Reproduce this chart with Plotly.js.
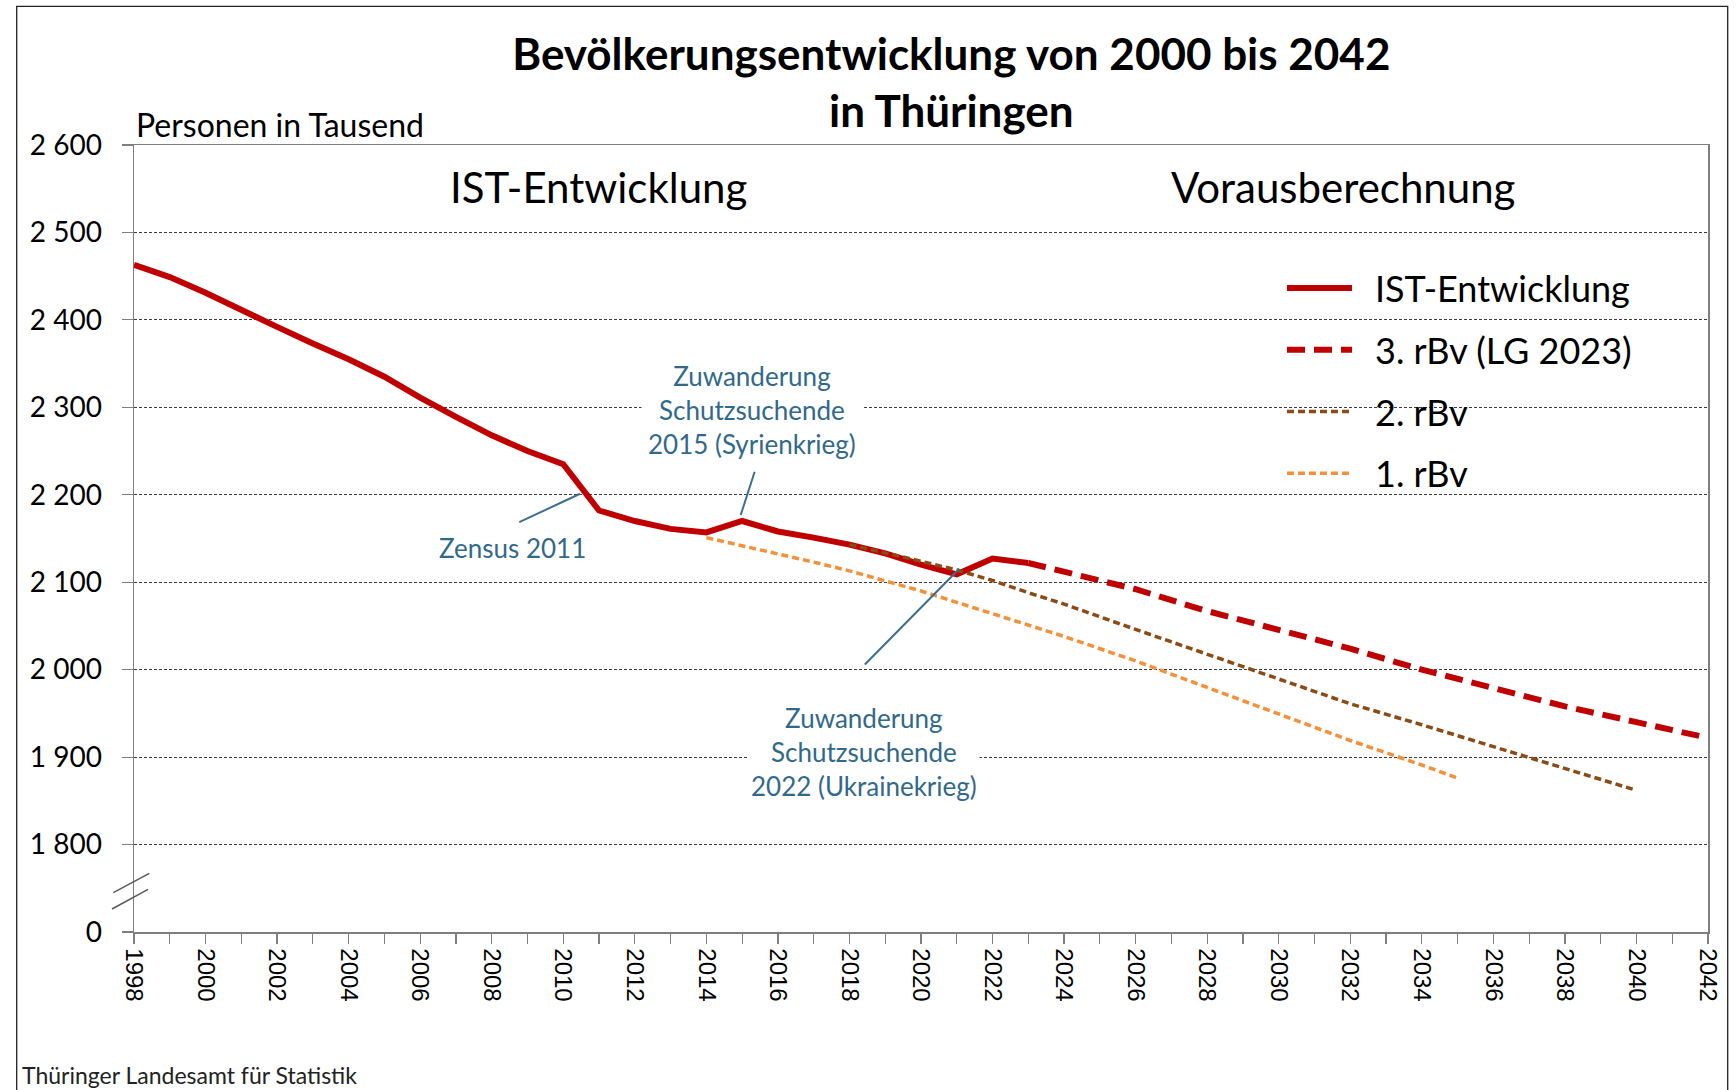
<!DOCTYPE html>
<html>
<head>
<meta charset="utf-8">
<script src="https://cdn.plot.ly/plotly-3.0.1.min.js"></script>
<style>html,body{margin:0;padding:0;background:#fff;}#chart{width:1736px;height:1090px;}</style>
</head>
<body>
<div id="chart"></div>
<script>
// ---- data (Personen in Tausend) ----
const yearsIst = [1998,1999,2000,2001,2002,2003,2004,2005,2006,2007,2008,2009,2010,2011,2012,2013,2014,2015,2016,2017,2018,2019,2020,2021,2022,2023];
const valuesIst = [2463,2449,2431,2411,2392,2373,2355,2335,2311,2289,2268,2250,2235,2182,2170,2161,2157,2170,2158,2151,2143,2133,2120,2109,2127,2122];

const yearsRbv3 = [2023,2024,2026,2028,2030,2032,2034,2036,2038,2040,2042];
const valuesRbv3 = [2122,2112,2092,2067,2046,2024,2000,1979,1958,1940,1922];

const yearsRbv2 = [2018,2019,2020,2021,2022,2023,2024,2026,2028,2030,2032,2034,2036,2038,2040];
const valuesRbv2 = [2143,2134,2124,2114,2102,2088,2075,2046,2018,1990,1961,1937,1912,1887,1862];

const yearsRbv1 = [2014,2015,2016,2017,2018,2019,2020,2021,2022,2024,2026,2028,2030,2032,2034,2035];
const valuesRbv1 = [2151,2142,2132,2123,2113,2102,2090,2077,2064,2038,2010,1980,1950,1919,1891,1876];

const seriesNames = ['IST-Entwicklung','3. rBv (LG 2023)','2. rBv','1. rBv'];

// y axis with break: the lowest tick stands for 0
const yTickVals = [1700,1800,1900,2000,2100,2200,2300,2400,2500,2600];
const yTickText = ['0','1 800','1 900','2 000','2 100','2 200','2 300','2 400','2 500','2 600'];

const titleText = '<b>Bevölkerungsentwicklung von 2000 bis 2042<br>in Thüringen</b>';
const unitLabel = 'Personen in Tausend';
const phaseLabels = ['IST-Entwicklung','Vorausberechnung'];
const noteZensus = 'Zensus 2011';
const noteSyrien = 'Zuwanderung<br>Schutzsuchende<br>2015 (Syrienkrieg)';
const noteUkraine = 'Zuwanderung<br>Schutzsuchende<br>2022 (Ukrainekrieg)';
const sourceText = 'Thüringer Landesamt für Statistik';

// ---- chart ----
const FONT = 'Lato, "Noto Sans", sans-serif';
const noteColor = '#31698A';
const GAP = '\u2002';

const traces = [
  {x: yearsIst, y: valuesIst, name: GAP + seriesNames[0], legendgroup:'g1', mode:'lines',
   line:{color:'#C00000', width:6}},
  {x: yearsRbv3, y: valuesRbv3, name: GAP + seriesNames[1], legendgroup:'g2', mode:'lines',
   line:{color:'#C00000', width:6, dash:'18px,9px'}},
  {x: yearsRbv2, y: valuesRbv2, name: GAP + seriesNames[2], legendgroup:'g3', mode:'lines',
   line:{color:'#8C4A14', width:3.5, dash:'7px,4px'}},
  {x: yearsRbv1, y: valuesRbv1, name: GAP + seriesNames[3], legendgroup:'g4', mode:'lines',
   line:{color:'#F4903A', width:3.5, dash:'7px,4px'}}
];

const L = 134, R = 28, T = 145, B = 158, W = 1736, H = 1090;
const pw = W - L - R, ph = H - T - B;
const px = v => (v - L) / pw;
const py = v => (H - B - v) / ph;

const layout = {
  width: W, height: H,
  margin: {l: L, r: R, t: T, b: B},
  paper_bgcolor: '#fff', plot_bgcolor: '#fff',
  font: {family: FONT, color: '#000'},
  showlegend: true,
  title: {text: titleText, x: 0.548, xanchor: 'center', xref: 'container',
          y: 1 - 70/H, yanchor: 'top', yref: 'container',
          font: {family: FONT, size: 44, color: '#000'}},
  xaxis: {range: [1998, 2042], tick0: 1998, dtick: 2, ticks: 'outside', ticklen: 10,
          tickcolor: '#7f7f7f', tickwidth: 1.2, tickangle: 90,
          tickfont: {family: '"Liberation Sans", Arial, sans-serif', size: 24, color: '#000'},
          showline: true, linecolor: '#7f7f7f', linewidth: 1.5, mirror: true,
          showgrid: false, zeroline: false,
          minor: {dtick: 1, tick0: 1998, ticks: 'outside', ticklen: 10, tickcolor: '#7f7f7f', tickwidth: 1.2, showgrid: false}},
  yaxis: {range: [1700, 2600], tickmode: 'array', tickvals: yTickVals, ticktext: yTickText,
          ticks: 'outside', ticklen: 11, tickcolor: '#7f7f7f', tickwidth: 1.2, ticklabelstandoff: 14,
          showline: true, linecolor: '#7f7f7f', linewidth: 1.5, mirror: true,
          showgrid: true, gridcolor: '#3a3a3a', gridwidth: 1, griddash: '3px,2px',
          zeroline: false, tickfont: {family: FONT, size: 28, color: '#000'}},
  legend: {x: px(1282), xanchor: 'left', y: py(258), yanchor: 'top',
           bgcolor: 'rgba(255,255,255,0)', borderwidth: 0, font: {family: FONT, size: 36, color: '#000'},
           itemwidth: 65, tracegroupgap: 12, traceorder: 'grouped'},
  annotations: [
    {text: unitLabel, xref: 'paper', yref: 'paper', x: 0, y: py(124), xanchor: 'left', yanchor: 'middle',
     showarrow: false, font: {family: FONT, size: 32, color: '#000'}},
    {text: phaseLabels[0], xref: 'paper', yref: 'paper', x: px(598), y: py(187), xanchor: 'center', yanchor: 'middle',
     showarrow: false, font: {family: FONT, size: 42, color: '#000'}},
    {text: phaseLabels[1], xref: 'paper', yref: 'paper', x: px(1343), y: py(187), xanchor: 'center', yanchor: 'middle',
     showarrow: false, font: {family: FONT, size: 42, color: '#000'}},
    {text: noteZensus, xref: 'paper', yref: 'paper', x: px(512), y: py(548), xanchor: 'center', yanchor: 'middle',
     showarrow: false, font: {family: FONT, size: 26, color: noteColor}},
    {text: noteSyrien, xref: 'paper', yref: 'paper', x: px(752), y: py(410), xanchor: 'center', yanchor: 'middle',
     showarrow: false, bgcolor: '#fff', borderpad: 6, font: {family: FONT, size: 26, color: noteColor}},
    {text: noteUkraine, xref: 'paper', yref: 'paper', x: px(864), y: py(752), xanchor: 'center', yanchor: 'middle',
     showarrow: false, bgcolor: '#fff', borderpad: 2, font: {family: FONT, size: 26, color: noteColor}},
    {text: sourceText, xref: 'paper', yref: 'paper', x: px(20), y: py(1075), xanchor: 'left', yanchor: 'middle',
     showarrow: false, font: {family: FONT, size: 23, color: '#222'}}
  ],
  shapes: [
    // white area behind the legend, masking the grid
    {type: 'rect', xref: 'paper', yref: 'paper', x0: px(1243), x1: px(1670), y0: py(512), y1: py(262),
     line: {width: 0}, fillcolor: '#fff', layer: 'between'},
    // outer frame
    {type: 'rect', xref: 'paper', yref: 'paper', x0: px(16.7), x1: px(1727.7), y0: py(1100), y1: py(6.4),
     line: {color: '#222', width: 1.3}, fillcolor: 'rgba(0,0,0,0)'},
    // axis break marks
    {type: 'line', xref: 'paper', yref: 'paper', x0: px(113.3), y0: py(892.7), x1: px(149.3), y1: py(873.3),
     line: {color: '#595959', width: 1.5}},
    {type: 'line', xref: 'paper', yref: 'paper', x0: px(112), y0: py(909), x1: px(148), y1: py(889.3),
     line: {color: '#595959', width: 1.5}},
    // callout leader lines
    {type: 'line', xref: 'x', yref: 'y', x0: 2008.77, y0: 2168.7, x1: 2010.47, y1: 2201.2,
     line: {color: '#3B6E8F', width: 2}},
    {type: 'line', xref: 'x', yref: 'y', x0: 2014.96, y0: 2176.8, x1: 2015.35, y1: 2226.4,
     line: {color: '#3B6E8F', width: 2}},
    {type: 'line', xref: 'x', yref: 'y', x0: 2018.43, y0: 2005.9, x1: 2021.07, y1: 2115.4,
     line: {color: '#3B6E8F', width: 2}}
  ]
};

Plotly.newPlot('chart', traces, layout, {displayModeBar: false, staticPlot: true});
</script>
</body>
</html>
